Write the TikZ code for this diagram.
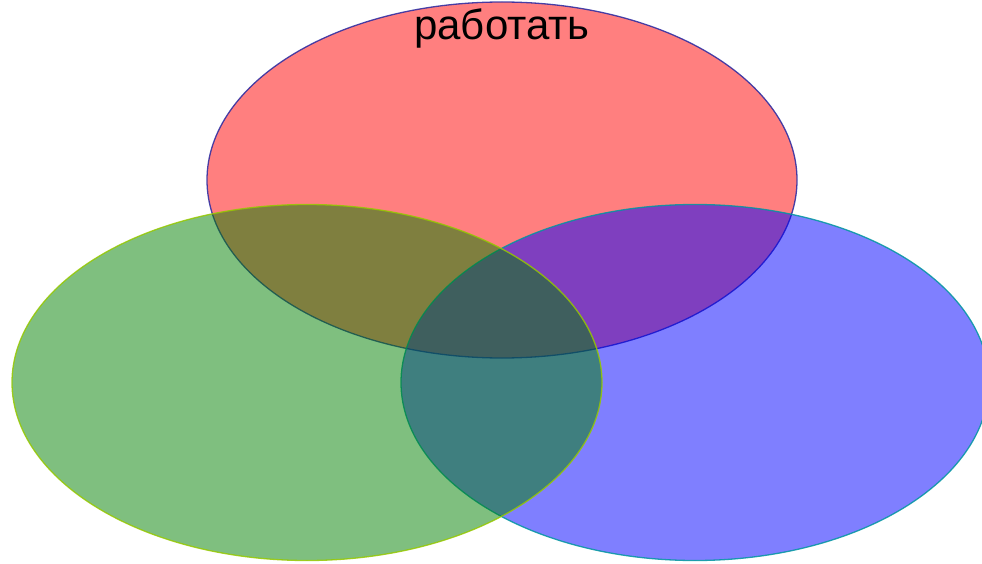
\documentclass[tikz,border=0pt]{standalone}
\usepackage{fontspec}
\setmainfont{Liberation Sans}
\begin{document}
\begin{tikzpicture}[x=1pt,y=-1pt,
  venn/.style={line width=1.3pt, fill opacity=0.5, draw opacity=0.85}]
\useasboundingbox (0,0) rectangle (982,564);
\begin{scope}
\clip (0,0) rectangle (982,564);
\path[venn, fill={rgb,255:red,255;green,0;blue,0}, draw={rgb,255:red,40;green,40;blue,160}]
  (502,180) ellipse [x radius=295, y radius=178];
\path[venn, fill={rgb,255:red,0;green,0;blue,255}, draw={rgb,255:red,0;green,150;blue,160}]
  (695,382.5) ellipse [x radius=294, y radius=178];
\path[venn, fill={rgb,255:red,0;green,128;blue,0}, draw={rgb,255:red,150;green,200;blue,0}]
  (307,382.5) ellipse [x radius=295, y radius=178];
\end{scope}
\node[font=\fontsize{42}{46}\selectfont, anchor=base, inner sep=0pt] (t) at (502,40) {работать};
\end{tikzpicture}
\end{document}
